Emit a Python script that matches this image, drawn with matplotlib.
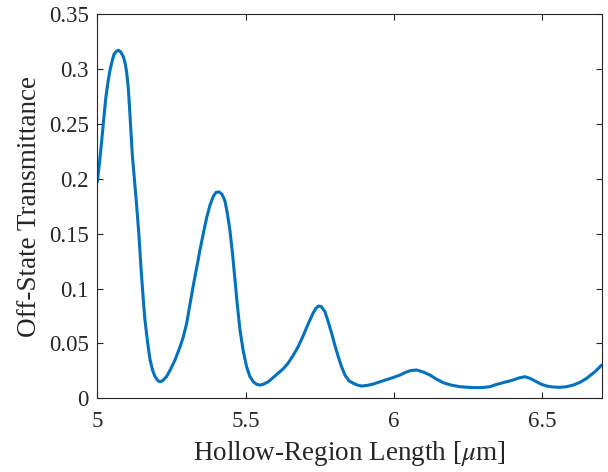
import matplotlib
matplotlib.use("Agg")
import matplotlib.pyplot as plt
from matplotlib.ticker import FuncFormatter

# hollow-region length [um] and off-state transmittance
length_um = [5.000, 5.008, 5.015, 5.022, 5.028, 5.036, 5.043, 5.050, 5.056, 5.064,
             5.071, 5.079, 5.088, 5.094, 5.099, 5.104, 5.108, 5.113, 5.118, 5.125,
             5.131, 5.140, 5.147, 5.155, 5.160, 5.166, 5.172, 5.178, 5.186, 5.194,
             5.203, 5.211, 5.220, 5.234, 5.248, 5.262, 5.279, 5.290, 5.301, 5.312,
             5.323, 5.335, 5.346, 5.358, 5.369, 5.380, 5.391, 5.400, 5.410, 5.420,
             5.430, 5.438, 5.447, 5.456, 5.464, 5.472, 5.481, 5.492, 5.503, 5.514,
             5.526, 5.537, 5.548, 5.561, 5.576, 5.593, 5.610, 5.627, 5.643, 5.660,
             5.677, 5.694, 5.711, 5.728, 5.737, 5.745, 5.755, 5.767, 5.778, 5.790,
             5.801, 5.812, 5.823, 5.835, 5.848, 5.863, 5.877, 5.891, 5.910, 5.930,
             5.952, 5.975, 5.998, 6.020, 6.038, 6.055, 6.076, 6.098, 6.121, 6.143,
             6.166, 6.193, 6.222, 6.250, 6.278, 6.300, 6.323, 6.346, 6.374, 6.402,
             6.420, 6.441, 6.460, 6.480, 6.497, 6.514, 6.536, 6.559, 6.582, 6.604,
             6.627, 6.649, 6.677, 6.700]
transmittance = [0.197, 0.216, 0.235, 0.255, 0.272, 0.288, 0.299, 0.307, 0.313, 0.316,
                 0.317, 0.3155, 0.311, 0.305, 0.297, 0.284, 0.268, 0.245, 0.222, 0.200,
                 0.181, 0.150, 0.120, 0.090, 0.073, 0.059, 0.046, 0.035, 0.026, 0.020,
                 0.0165, 0.015, 0.016, 0.020, 0.027, 0.035, 0.047, 0.056, 0.068, 0.085,
                 0.102, 0.119, 0.135, 0.151, 0.165, 0.176, 0.184, 0.1875, 0.188, 0.186,
                 0.180, 0.169, 0.153, 0.131, 0.108, 0.085, 0.062, 0.043, 0.029, 0.020,
                 0.015, 0.0128, 0.012, 0.013, 0.015, 0.019, 0.023, 0.027, 0.032, 0.039,
                 0.047, 0.057, 0.068, 0.078, 0.082, 0.084, 0.0835, 0.079, 0.070, 0.059,
                 0.048, 0.038, 0.029, 0.021, 0.016, 0.0137, 0.012, 0.0112, 0.0118, 0.013,
                 0.015, 0.017, 0.019, 0.0212, 0.0236, 0.0252, 0.0258, 0.0240, 0.0212, 0.0175,
                 0.0142, 0.0120, 0.0106, 0.0100, 0.0097, 0.0099, 0.0106, 0.0127, 0.0147, 0.0167,
                 0.0185, 0.0197, 0.0180, 0.0151, 0.0128, 0.0112, 0.0103, 0.0100, 0.0106, 0.0121,
                 0.0146, 0.0182, 0.0242, 0.0303]

x_ticks = [5, 5.5, 6, 6.5]
y_ticks = [0, 0.05, 0.1, 0.15, 0.2, 0.25, 0.3, 0.35]

plt.rcParams['font.family'] = ['Liberation Serif', 'DejaVu Serif']
plt.rcParams['mathtext.fontset'] = 'stix'

fig = plt.figure(figsize=(6.08, 4.72), dpi=100)
ax = fig.add_axes([0.160, 0.1561, 0.8297, 0.8142])

ax.plot(length_um, transmittance, color='#0072BD', linewidth=2.2,
        solid_joinstyle='round', solid_capstyle='round')

ax.set_xlim(5, 6.7)
ax.set_ylim(0, 0.35)
ax.set_xticks(x_ticks)
ax.set_yticks(y_ticks)
fmt = FuncFormatter(lambda v, p: '%g' % v)
ax.xaxis.set_major_formatter(fmt)
ax.yaxis.set_major_formatter(fmt)

axis_col = '#262626'
for s in ax.spines.values():
    s.set_color(axis_col)
    s.set_linewidth(0.8)
ax.tick_params(direction='in', length=4, width=0.8, colors=axis_col,
               labelsize=16.5, top=True, right=True)
ax.tick_params(axis='x', pad=9)
ax.tick_params(axis='y', pad=6)

ax.set_xlabel(r'Hollow-Region Length [$\mu$m]', fontsize=19.5, color=axis_col, labelpad=5)
ax.set_ylabel('Off-State Transmittance', fontsize=19.5, color=axis_col, labelpad=5)

fig.savefig('out.png', dpi=100)
